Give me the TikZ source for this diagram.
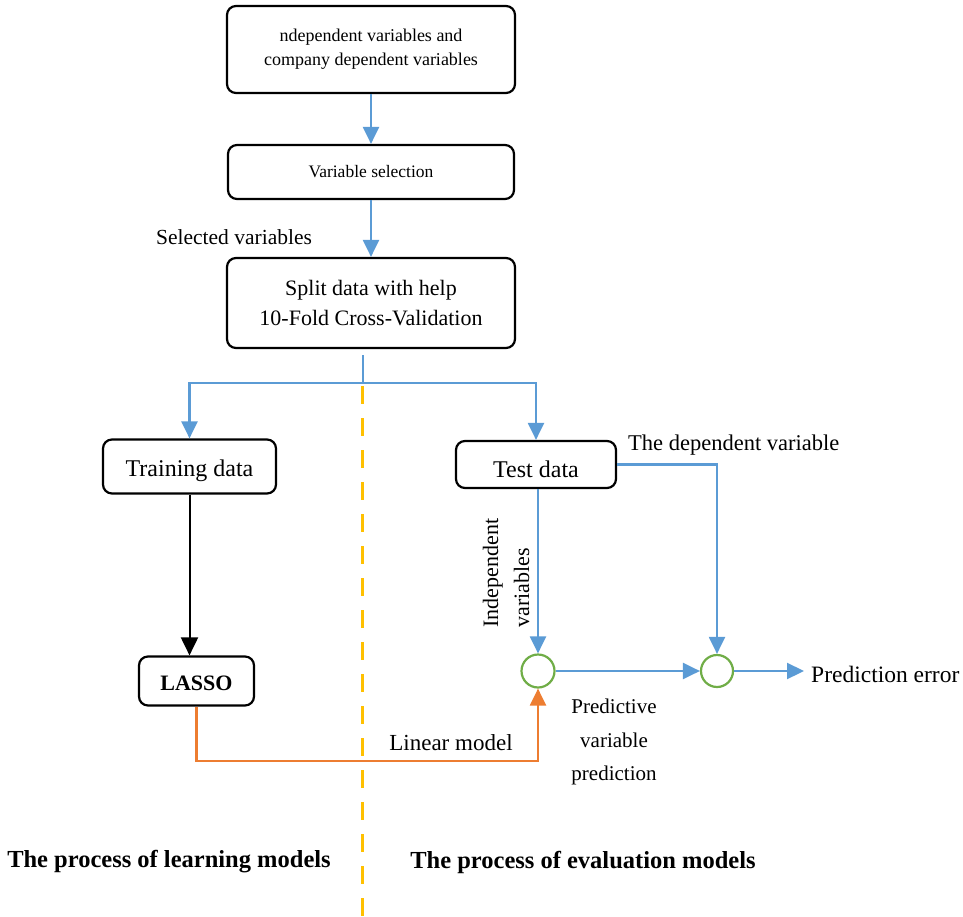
\documentclass[tikz,border=0pt]{standalone}
\usepackage{fontspec}
\setmainfont{Liberation Serif}
\usetikzlibrary{arrows.meta,calc}
\definecolor{bl}{HTML}{5B9BD5}
\definecolor{orl}{HTML}{ED7D31}
\definecolor{gr}{HTML}{70AD47}
\definecolor{yl}{HTML}{FFC000}
\newcommand{\fs}[2]{\fontsize{#1}{#2}\selectfont}
\newcommand{\lowr}[2]{\raisebox{-#1}[\height][\depth]{#2}}
\begin{document}
\begin{tikzpicture}[x=1pt,y=-1pt,
  box/.style={draw=black,line width=2.2pt,rounded corners=9pt,inner sep=0pt,align=center},
  blueline/.style={draw=bl,line width=2.2pt},
  blarrow/.style={blueline,-{Triangle[length=17pt,width=16pt]}},
  orarrow/.style={draw=orl,line width=2.2pt,-{Triangle[length=17pt,width=16pt]}},
  blkarrow/.style={draw=black,line width=2pt,-{Triangle[length=18pt,width=17pt]}},
  ring/.style={circle,draw=gr,line width=2.2pt,minimum size=33pt,inner sep=0pt},
  lbl/.style={inner sep=0pt,align=center}]
\useasboundingbox (0,0) rectangle (963,917);
% boxes
\node[box,minimum width=288pt,minimum height=87pt,font=\fs{18}{24}] (b1) at (371,49.5)
  {ndependent variables and\\company dependent variables};
\node[box,minimum width=286pt,minimum height=54pt,font=\fs{17.5}{20}] (b2) at (371,172)
  {Variable selection};
\node[box,minimum width=288pt,minimum height=90pt,font=\fs{22}{30}] (b3) at (371,303)
  {Split data with help\\10-Fold Cross-Validation};
\node[box,minimum width=173pt,minimum height=54pt,font=\fs{24}{26}] (train) at (189.5,466.5)
  {\lowr{4pt}{Training data}};
\node[box,minimum width=115pt,minimum height=49pt,font=\fs{22}{24}\bfseries] (lasso) at (196.5,681)
  {\lowr{2pt}{LASSO}};
\node[box,minimum width=160pt,minimum height=47pt,font=\fs{24}{26}] (test) at (536,464.5)
  {\lowr{5pt}{Test data}};
\node[ring] (c1) at (538,671) {};
\node[ring,minimum size=32pt] (c2) at (717,671) {};
% split coordinates
\coordinate (s0) at (363,355);
\coordinate (split) at (363,383);
\coordinate (pe) at (804,671);
% connectors
\draw[blarrow] (b1) -- (b2);
\draw[blarrow] (b2) -- (b3);
\draw[blueline] (s0) -- (split);
\draw[blarrow] (split) -| (train.north);
\draw[blarrow] (split) -| (test.north);
\draw[blkarrow] (train.south) -- (train.south |- lasso.north);
\draw[blarrow] (test.south -| c1.north) -- (c1.north);
\draw[blarrow] (test.east) -| (c2.north);
\draw[blarrow] (c1.east) -- (c2.west);
\draw[blarrow] (c2.east) -- (pe);
\draw[orarrow] (lasso.south) -- (lasso.south |- 0,761) -| (c1.south);
% dashed divider
\coordinate (d0) at (362,386);
\coordinate (d1) at (362,917);
\draw[yl,line width=3pt,dash pattern=on 18pt off 14pt] (d0) -- (d1);
% labels
\node[lbl,anchor=west,font=\fs{23.5}{26}] (perr) at (811,674) {Prediction error};
\node[lbl,font=\fs{21.5}{24}] (selv) at (234,237) {Selected variables};
\node[lbl,anchor=west,font=\fs{22.5}{26}] (depv) at (628,445) {The dependent variable};
\node[lbl,font=\fs{23}{26}] (linm) at (451,743) {Linear model};
\node[lbl,rotate=90,align=left,font=\fs{22}{31}] (indv) at (506,573) {Independent\\variables};
\node[lbl,font=\fs{21}{33.5}] (pvp) at (614,742) {Predictive\\variable\\prediction};
\node[lbl,font=\fs{24.5}{28}\bfseries] (plm) at (169,862) {The process of learning models};
\node[lbl,font=\fs{24.5}{28}\bfseries] (pem) at (583,862) {The process of evaluation models};
\end{tikzpicture}
\end{document}
